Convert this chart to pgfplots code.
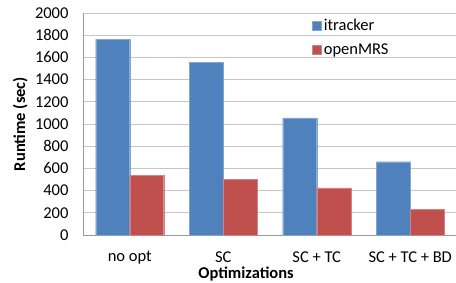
\documentclass[border=0pt]{standalone}
\usepackage{pgfplots}
\pgfplotsset{compat=1.18}
\usepackage{fontspec}
\setmainfont{Carlito}
\definecolor{xblue}{HTML}{4F81BD}
\definecolor{xred}{HTML}{C0504D}
\newcommand{\cf}{\fontsize{16.5}{19}\selectfont}
\begin{document}
\begin{tikzpicture}[font=\cf]
\path[use as bounding box] (0,0) rectangle (456pt,282pt);
\begin{axis}[
  at={(83pt,47pt)}, anchor=south west,
  scale only axis, width=374pt, height=222pt,
  ybar=0pt, bar width=34pt,
  xmin=-0.5, xmax=3.5, ymin=0, ymax=2000,
  xtick=data, xticklabels={no opt, SC, SC + TC, SC + TC + BD},
  ytick={0,200,...,2000},
  axis x line*=bottom, axis y line*=left,
  axis line style={draw=gray!80, -},
  major tick length=0pt,
  ymajorgrids, grid style={gray!45, line width=0.8pt},
  tick label style={font=\cf},
  label style={font=\cf\bfseries},
  /pgf/number format/assume math mode=true,
  /pgf/number format/set thousands separator={},
  yticklabel style={xshift=-11pt},
  xticklabel style={yshift=-13pt},
  ylabel={Runtime (sec)},
  ylabel style={at={(axis description cs:-0.168,0.5)}, anchor=center, rotate=0},
  xlabel={Optimizations},
  xlabel style={at={(axis description cs:0.436,-0.176)}, anchor=center, inner sep=0pt},
  legend style={at={(axis description cs:0.605,0.99)}, anchor=north west, draw=none, fill=none, row sep=7pt, font=\cf},
  legend cell align=left,
  legend image code/.code={\fill[#1] (0pt,-4.5pt) rectangle (9pt,4.5pt);},
]
\addplot[fill=xblue, draw=xblue!70!white] coordinates {(0,1765) (1,1555) (2,1055) (3,660)};
\addplot[fill=xred, draw=xred!70!white] coordinates {(0,535) (1,500) (2,425) (3,230)};
\legend{itracker, openMRS}
\end{axis}
\end{tikzpicture}
\end{document}
